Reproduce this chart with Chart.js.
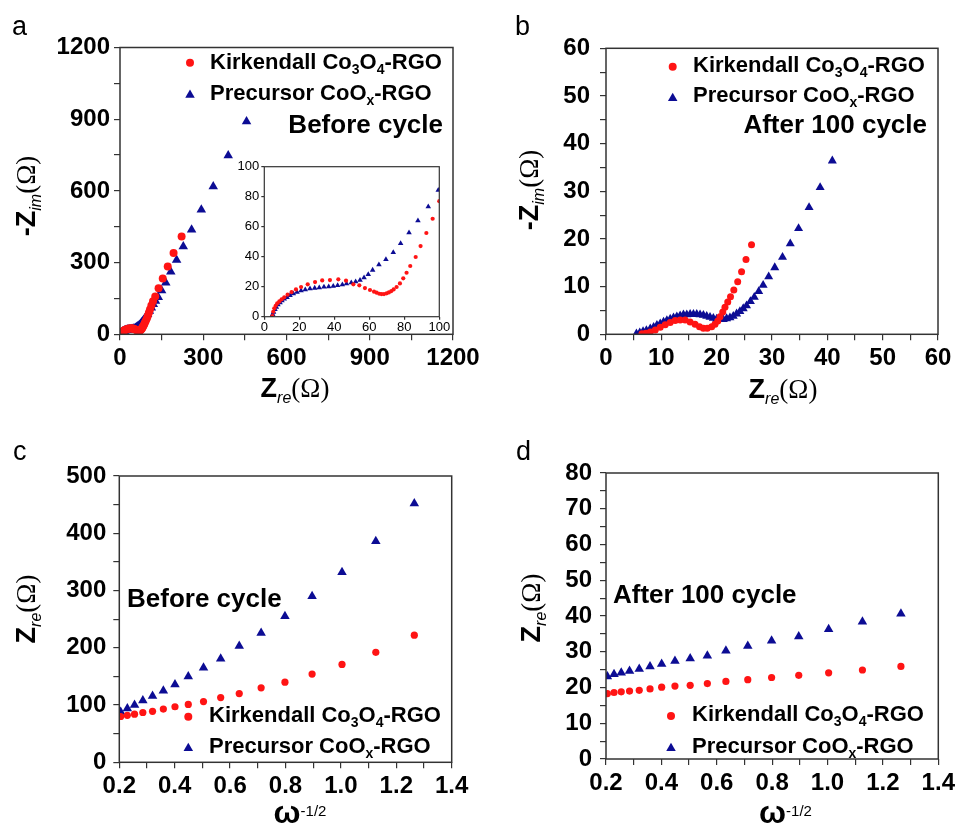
<!DOCTYPE html>
<html>
<head>
<meta charset="utf-8">
<script src="https://cdn.jsdelivr.net/npm/chart.js@4.4.1/dist/chart.umd.min.js"></script>
<style>
  html,body{margin:0;padding:0;background:#fff;}
  #wrap{position:relative;width:959px;height:828px;overflow:hidden;background:#fff;}
  canvas{position:absolute;}
</style>
</head>
<body>
<div id="wrap">
  <canvas id="pa" width="500" height="414" style="left:0;top:0"></canvas>
  <canvas id="pb" width="479" height="414" style="left:480px;top:0"></canvas>
  <canvas id="pc" width="500" height="414" style="left:0;top:414px"></canvas>
  <canvas id="pd" width="479" height="414" style="left:480px;top:414px"></canvas>
  <canvas id="pin" width="235" height="180" style="left:225px;top:155px"></canvas>
</div>
<script>
// ---------------- DATA ----------------
// (a) Nyquist before cycling
const beforeKirkRe = [4.6,5.1,5.7,6.5,7.4,8.6,9.9,11.4,13.3,15.6,18.1,21,24.8,29,33.1,37.5,42.3,46.7,50.9,54.3,57.5,60.4,62.7,64.2,65.7,67,68.4,69.9,71.2,72.6,73.9,75.6,77.5,79.4,81.3,83.4,86.5,89.3,92.6,96.2,100,104,108,113,119,127,139,154,172,193,222];
const beforeKirkIm = [0.4,3.3,5.6,7.3,8.9,10.2,11.6,12.9,14.7,16.4,18.2,19.8,21.6,23.1,24.2,24.4,24.9,24,21.6,20.9,19.1,17.8,16.7,16,15.3,15.1,15.1,15.6,16.2,17.1,18.2,19.8,22.2,25.6,29.3,33.8,39.8,47.1,55.8,65.3,77,90,104,120,138,158,193,233,284,340,409];
const beforePrecRe = [4.2,4.8,5.3,6.1,6.9,7.8,9,10.1,11.4,13,14.7,16.6,18.7,21,23.4,26.1,28.8,31.4,34.1,36.8,39.4,41.9,44.6,47,49.7,52.2,54.7,57,59.4,61.9,65.5,69.5,73.7,77.9,82.7,87.8,93.7,99.4,106,113,120,128,138,150,165,183,204,228,258,293,336,390,456];
const beforePrecIm = [0,1.6,3.1,4.9,6.4,8,9.3,10.7,11.8,12.9,14.2,15.3,16.4,17.3,18,18.7,19.1,19.3,19.8,20,20.4,20.9,21.3,22,22.7,23.3,24.4,26,28.2,31.1,34.7,38.2,42.9,48.9,56,64,73.3,84.4,97,111,126,139,155,183,216,262,311,367,437,521,618,748,890];
// (b) Nyquist after 100 cycles
const afterKirkRe = [6.5,7.2,8.0,8.9,9.8,10.7,11.6,12.5,13.4,14.3,15.2,16.1,16.9,17.6,18.3,19.1,19.7,20.2,20.6,21.1,21.5,22.0,22.5,23.1,23.8,24.5,25.3,26.3];
const afterKirkIm = [0.1,0.2,0.5,0.9,1.5,2.0,2.5,2.9,3.0,3.0,2.6,2.1,1.6,1.25,1.25,1.6,2.1,2.8,3.7,4.7,5.7,6.8,7.9,9.3,11.0,13.1,15.7,18.8];
const afterPrecRe = [5.5,6.1,6.7,7.3,8.0,8.6,9.2,9.8,10.4,11.0,11.6,12.2,12.8,13.4,14.0,14.6,15.2,15.8,16.4,17.0,17.6,18.2,18.8,19.4,20.0,20.6,21.2,21.8,22.4,23.0,23.6,24.2,24.8,25.4,26.1,26.8,27.6,28.4,29.4,30.5,31.9,33.3,34.8,36.7,38.7,40.9];
const afterPrecIm = [0.1,0.35,0.6,0.8,1.2,1.5,1.9,2.2,2.6,2.9,3.2,3.5,3.7,3.9,4.1,4.1,4.2,4.2,4.2,4.1,4.0,3.8,3.6,3.4,3.2,3.1,3.1,3.3,3.5,3.8,4.3,4.8,5.4,6.0,6.9,7.8,9.0,10.3,12.1,14.0,16.2,19.0,22.2,26.6,30.8,36.4];
// (c),(d) Zre vs omega^-1/2
const omegaInv = [1.265,1.126,1.004,0.896,0.798,0.712,0.633,0.566,0.504,0.449,0.401,0.359,0.320,0.285,0.255,0.229,0.205];
const zreBeforeKirk = [222,192,171,154,140,130,120,113,106,101,97,93,89,87,84,82,80];
const zreBeforePrec = [452,386,332,290,255,226,203,181,165,150,136,125,116,108,100,94,88];
const zreAfterKirk = [25.9,24.9,24.1,23.4,22.8,22.2,21.7,21.1,20.6,20.4,20.1,19.6,19.2,19.0,18.8,18.6,18.3];
const zreAfterPrec = [40.6,38.4,36.3,34.3,33.1,31.6,30.3,28.9,28.1,27.4,26.6,25.9,25.2,24.6,24.1,23.7,23.1];
// axis ticks (major labels)
const ticksA = [0,300,600,900,1200];
const ticksB = [0,10,20,30,40,50,60];
const ticksCy = [0,100,200,300,400,500];
const ticksDy = [0,10,20,30,40,50,60,70,80];
const ticksOmega = [0.2,0.4,0.6,0.8,1.0,1.2,1.4];
const ticksInset = [0,20,40,60,80,100];
const seriesNames = ['Kirkendall Co', 'Precursor CoO'];

// ---------------- STYLE ----------------
const RED = '#ff1414';
const BLUE = '#0c0c94';
const F = '"Liberation Sans", Arial, Helvetica, sans-serif';
const FS = '"Liberation Serif", "Times New Roman", serif';
const AX = '#333';

const pts = (xs, ys) => xs.map((x, i) => ({x: x, y: ys[i]}));

const deco = {}; // per-canvas decorations

function drawRich(ctx, it) {
  let w = 0;
  for (const p of it.parts) { ctx.font = p[1]; w += ctx.measureText(p[0]).width; }
  ctx.save();
  ctx.translate(it.x, it.y);
  if (it.rot) ctx.rotate(-Math.PI / 2);
  let x = it.align === 'center' ? -w / 2 : (it.align === 'right' ? -w : 0);
  ctx.textBaseline = 'alphabetic';
  ctx.textAlign = 'left';
  ctx.fillStyle = '#000';
  for (const p of it.parts) {
    ctx.font = p[1];
    ctx.fillText(p[0], x, p[2] || 0);
    x += ctx.measureText(p[0]).width;
  }
  ctx.restore();
}
function drawMarker(ctx, m) {
  ctx.save();
  ctx.fillStyle = m.color;
  ctx.beginPath();
  if (m.style === 'circle') {
    ctx.arc(m.x, m.y, m.r, 0, Math.PI * 2);
  } else {
    let a = 0;
    ctx.moveTo(m.x + Math.sin(a) * m.r, m.y - Math.cos(a) * m.r);
    a += 2 * Math.PI / 3;
    ctx.lineTo(m.x + Math.sin(a) * m.r, m.y - Math.cos(a) * m.r);
    a += 2 * Math.PI / 3;
    ctx.lineTo(m.x + Math.sin(a) * m.r, m.y - Math.cos(a) * m.r);
    ctx.closePath();
  }
  ctx.fill();
  ctx.restore();
}

Chart.register({
  id: 'decoPlugin',
  afterDraw(chart) {
    const d = deco[chart.canvas.id];
    const ctx = chart.ctx;
    const ca = chart.chartArea;
    ctx.save();
    ctx.strokeStyle = AX;
    ctx.lineWidth = d && d.frameW ? d.frameW : 1.5;
    ctx.strokeRect(ca.left, ca.top, ca.right - ca.left, ca.bottom - ca.top);
    ctx.restore();
    if (!d) return;
    (d.markers || []).forEach(m => drawMarker(ctx, m));
    (d.texts || []).forEach(t => drawRich(ctx, t));
  }
});

function linAxis(ticks, minorDiv, opts) {
  const step = (ticks[1] - ticks[0]) / minorDiv;
  const major = ticks[1] - ticks[0];
  const dec = opts.dec || 0;
  return {
    type: 'linear',
    min: ticks[0],
    max: ticks[ticks.length - 1],
    afterFit: opts.fit,
    border: {display: false},
    grid: {display: true, drawOnChartArea: false, drawTicks: true, tickLength: opts.tl || 6, color: AX, lineWidth: 1.2},
    ticks: {
      stepSize: step,
      autoSkip: false,
      maxRotation: 0,
      padding: opts.pad,
      color: '#000',
      font: {family: F, size: opts.fs || 24, weight: opts.fw || 'bold'},
      callback: (v) => {
        const r = (v - ticks[0]) / major;
        return Math.abs(r - Math.round(r)) < 1e-6 ? v.toFixed(dec) : '';
      }
    }
  };
}

function makeChart(id, datasets, xAx, yAx, pad) {
  return new Chart(document.getElementById(id), {
    type: 'scatter',
    data: {datasets: datasets},
    options: {
      responsive: false,
      animation: false,
      devicePixelRatio: 1,
      layout: {padding: pad},
      plugins: {legend: {display: false}, tooltip: {enabled: false}},
      scales: {x: xAx, y: yAx}
    }
  });
}

function ds(name, data, color, style, r) {
  return {label: name, data: data, showLine: false, pointStyle: style, pointRadius: r,
          pointBackgroundColor: color, pointBorderColor: color, pointBorderWidth: 0, borderWidth: 0};
}

// legend / text helpers
const legFont = 'bold 22px ' + F;
const legSub = 'bold 14px ' + F;
function legendTexts(x, y1, y2) {
  return [
    {x: x, y: y1, parts: [[seriesNames[0], legFont], ['3', legSub, 5], ['O', legFont], ['4', legSub, 5], ['-RGO', legFont]]},
    {x: x, y: y2, parts: [[seriesNames[1], legFont], ['x', legSub, 5], ['-RGO', legFont]]}
  ];
}
function legendMarkers(x, y1, y2) {
  return [
    {x: x, y: y1, style: 'circle', r: 4, color: RED},
    {x: x, y: y2, style: 'triangle', r: 5.5, color: BLUE}
  ];
}
const titleZ = 'bold 27px ' + F;
const titleSub = 'italic 16px ' + F;
const titleOm = '27px ' + FS;
function zTitle(sub, x, y, rot) {
  return {x: x, y: y, rot: rot, align: 'center', parts: [[rot && sub === 'im' ? '-Z' : 'Z', titleZ], [sub, titleSub, 6], ['(\u03A9)', titleOm]]};
}
function omegaTitle(x, y) {
  return {x: x, y: y, align: 'center', parts: [['\u03C9', 'bold 32px ' + F], ['-1/2', '15px ' + F, -7]]};
}
const letterFont = '27px ' + F;
const noteFont = 'bold 26px ' + F;

// ---------------- PANEL A ----------------
deco.pa = {
  markers: legendMarkers(190, 62.7, 95),
  texts: [
    {x: 12, y: 35, parts: [['a', letterFont]]},
    zTitle('im', 35, 196, true),
    zTitle('re', 295, 397, false),
    {x: 443, y: 133, align: 'right', parts: [['Before cycle', noteFont]]},
    ...legendTexts(210, 69, 100)
  ]
};
makeChart('pa', [
  ds('Kirkendall', pts(beforeKirkRe, beforeKirkIm), RED, 'circle', 4),
  ds('Precursor', pts(beforePrecRe, beforePrecIm), BLUE, 'triangle', 5.5)
], linAxis(ticksA, 2, {pad: 4, fit: s => { s.height = 79.7; }}),
   linAxis(ticksA, 2, {pad: 4, fit: s => { s.width = 120; }}),
   {top: 47.5, right: 47, left: 0, bottom: 0});

// ---------------- INSET ----------------
deco.pin = {frameW: 1.2, texts: [], markers: []};
makeChart('pin', [
  ds('Kirkendall', pts(beforeKirkRe, beforeKirkIm), RED, 'circle', 2.1),
  ds('Precursor', pts(beforePrecRe, beforePrecIm), BLUE, 'triangle', 3.2)
], linAxis(ticksInset, 1, {pad: 0, tl: 3, fs: 13, fw: 'normal', fit: s => { s.height = 18.3; }}),
   linAxis(ticksInset, 1, {pad: 2, tl: 3, fs: 13, fw: 'normal', fit: s => { s.width = 39.3; }}),
   {top: 11.7, right: 20.7, left: 0, bottom: 0});

// ---------------- PANEL B ----------------
deco.pb = {
  markers: legendMarkers(192.7, 66.7, 98.3),
  texts: [
    {x: 35, y: 35, parts: [['b', letterFont]]},
    zTitle('im', 58, 190, true),
    zTitle('re', 303, 398, false),
    {x: 447, y: 133, align: 'right', parts: [['After 100 cycle', noteFont]]},
    ...legendTexts(213, 72, 102)
  ]
};
makeChart('pb', [
  ds('Kirkendall', pts(afterKirkRe, afterKirkIm), RED, 'circle', 3.5),
  ds('Precursor', pts(afterPrecRe, afterPrecIm), BLUE, 'triangle', 5.2)
], linAxis(ticksB, 2, {pad: 4, fit: s => { s.height = 79.7; }}),
   linAxis(ticksB, 2, {pad: 10, fit: s => { s.width = 126; }}),
   {top: 48.3, right: 21, left: 0, bottom: 0});

// ---------------- PANEL C ----------------
deco.pc = {
  markers: legendMarkers(188.3, 302.7, 334.3),
  texts: [
    {x: 13, y: 46, parts: [['c', letterFont]]},
    zTitle('re', 35, 195, true),
    omegaTitle(300, 409),
    {x: 127, y: 193, parts: [['Before cycle', noteFont]]},
    ...legendTexts(209, 307.7, 339)
  ]
};
makeChart('pc', [
  ds('Kirkendall', pts(omegaInv, zreBeforeKirk), RED, 'circle', 3.6),
  ds('Precursor', pts(omegaInv, zreBeforePrec), BLUE, 'triangle', 5.5)
], linAxis(ticksOmega, 2, {pad: 4, dec: 1, fit: s => { s.height = 65.7; }}),
   linAxis(ticksCy, 2, {pad: 7, fit: s => { s.width = 119.3; }}),
   {top: 62, right: 48.3, left: 0, bottom: 0});

// ---------------- PANEL D ----------------
deco.pd = {
  markers: legendMarkers(191, 302, 334.3),
  texts: [
    {x: 36, y: 46, parts: [['d', letterFont]]},
    zTitle('re', 60, 194, true),
    omegaTitle(305.5, 409),
    {x: 133, y: 189, parts: [['After 100 cycle', noteFont]]},
    ...legendTexts(212, 307, 339)
  ]
};
makeChart('pd', [
  ds('Kirkendall', pts(omegaInv, zreAfterKirk), RED, 'circle', 3.6),
  ds('Precursor', pts(omegaInv, zreAfterPrec), BLUE, 'triangle', 5.5)
], linAxis(ticksOmega, 2, {pad: 4, dec: 1, fit: s => { s.height = 69; }}),
   linAxis(ticksDy, 2, {pad: 8, fit: s => { s.width = 126; }}),
   {top: 59, right: 20.7, left: 0, bottom: 0});
</script>
</body>
</html>
